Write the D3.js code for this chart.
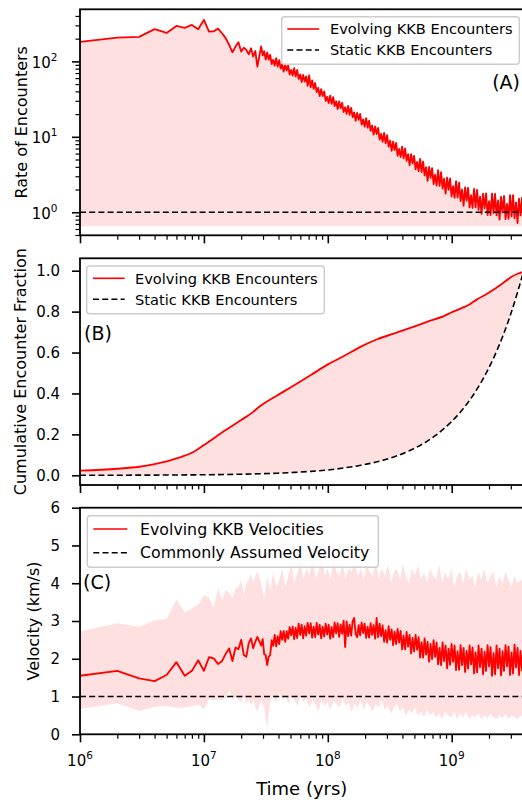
<!DOCTYPE html>
<html>
<head>
<meta charset="utf-8">
<script src="https://cdn.jsdelivr.net/npm/d3@7"></script>
<style>
  body { margin: 0; background: #fff; }
  text { font-family: "DejaVu Sans", sans-serif; fill: #000; }
</style>
</head>
<body>
<svg id="chart" width="522" height="800"></svg>
<script>
// ---------------- data ----------------
// Early epoch: one sample per Myr (1..27 Myr)
const earlyTimes = d3.range(1, 28).map(k => k * 1e6);

// (A) encounter rate, early samples
const rateEarly = [181, 206, 211, 267, 238, 295, 278, 304, 267, 355, 248, 251, 272, 236, 203,
  165, 132, 157, 179, 135, 152, 142, 124, 149, 116, 137, 85];
// (A) encounter rate, later dense samples (log-spaced from 2.9e7 to 3.8e9 yr)
const rateLate = [158, 120, 136, 106, 131, 106, 122, 92, 105, 88, 110, 85.5,
  104, 80, 92, 73, 91, 75.5, 88, 67, 77, 65, 81, 63,
  77, 58.6, 67, 53, 66, 54, 63, 47.5, 65, 45.3, 56, 43.2,
  51.6, 39.2, 44.5, 34.7, 42.7, 34.8, 39.9, 29.9, 33.9, 28.1, 35.1, 27.4,
  33.5, 25.6, 29.6, 23.3, 29.4, 24.0, 28.2, 21.3, 24.6, 20.2, 25.7, 19.6,
  24.2, 18.2, 21.1, 16.3, 20.8, 16.8, 20.1, 14.5, 17.0, 13.7, 17.7, 13.2,
  16.4, 12.0, 14.1, 10.7, 13.7, 10.9, 13.1, 9.2, 10.9, 8.6, 11.3, 8.2,
  10.5, 7.4, 8.9, 6.5, 8.6, 6.65, 8.3, 5.6, 6.9, 5.4, 7.4, 5.2,
  7.0, 4.8, 5.9, 4.2, 5.9, 4.45, 5.6, 3.7, 4.65, 3.5, 5.1, 3.4,
  4.7, 3.07, 3.95, 2.6, 3.98, 2.85, 3.85, 2.37, 3.14, 2.25, 3.6, 2.24,
  3.39, 2.06, 2.79, 1.77, 2.88, 1.98, 2.8, 1.62, 2.22, 1.55, 2.59, 1.56,
  2.47, 1.41, 2.0, 1.22, 2.13, 1.42, 2.11, 1.16, 1.68, 1.14, 2.04, 1.17,
  1.98, 1.08, 1.61, 0.95, 1.76, 1.13, 1.78, 0.92, 1.40, 0.92, 1.77, 0.97,
  1.75, 0.91, 1.43, 0.80, 1.60, 0.99, 1.64, 0.81, 1.29, 0.82, 1.69, 0.88,
  1.68, 0.83, 1.35, 0.72, 1.51, 0.91, 1.56, 0.65];
const staticRate = 1;

// (B) cumulative encounter fraction
const cumTimes = [1e6, 2e6, 3e6, 4e6, 5e6, 6e6, 8e6, 1e7, 1.5e7, 2e7, 2.5e7, 2.8e7, 3.9e7, 5.4e7, 7.3e7,
  1e8, 1.35e8, 1.85e8, 2.5e8, 3.45e8, 4.7e8, 6.4e8, 8.8e8, 1.0e9, 1.19e9, 1.4e9, 1.6e9, 1.9e9, 2.2e9,
  2.6e9, 3.0e9, 3.4e9, 3.8e9];
const cumEvolving = [0.0225, 0.032, 0.042, 0.055, 0.068, 0.083, 0.11, 0.148, 0.221, 0.27, 0.31, 0.335,
  0.39, 0.441, 0.49, 0.542, 0.583, 0.629, 0.665, 0.694, 0.722, 0.751, 0.78, 0.797, 0.816, 0.836, 0.86,
  0.885, 0.909, 0.94, 0.968, 0.985, 0.995];
const cumStatic = [0.0003, 0.0005, 0.0008, 0.001, 0.0013, 0.0016, 0.0021, 0.0026, 0.004, 0.0053, 0.0066,
  0.0074, 0.0103, 0.0142, 0.0192, 0.026, 0.036, 0.049, 0.066, 0.091, 0.124, 0.168, 0.232, 0.263, 0.313,
  0.368, 0.421, 0.5, 0.579, 0.684, 0.789, 0.895, 0.995];

// (C) encounter velocity, early samples
const velEarly = [1.55, 1.68, 1.48, 1.41, 1.57, 1.91, 1.55, 1.68, 1.96, 1.68, 2.04, 2.01, 1.86, 1.94, 2.13,
  2.27, 1.94, 2.30, 2.25, 2.50, 2.10, 2.05, 2.41, 2.54, 2.28, 2.45, 2.58];
const velUpperEarly = [2.72, 2.94, 2.85, 3.01, 3.05, 3.57, 3.23, 3.33, 3.44, 3.69, 3.62, 3.37, 3.89, 3.55,
  3.82, 3.75, 3.62, 3.85, 3.90, 4.10, 3.70, 4.00, 4.10, 4.26, 4.00, 4.20, 4.32];
const velLowerEarly = [0.67, 0.82, 0.62, 0.72, 0.75, 0.70, 0.71, 0.74, 0.79, 0.66, 0.93, 0.90, 0.93, 0.90,
  0.95, 1.15, 0.92, 1.00, 0.90, 0.85, 1.00, 0.80, 0.95, 0.75, 0.90, 0.70, 0.60];
// (C) velocity, later dense samples (same grid as rateLate)
const velLate = [2.35, 2.52, 2.12, 2.10, 1.83, 2.05, 2.10, 2.49, 2.34, 2.63, 2.33, 2.60,
  2.39, 2.73, 2.50, 2.74, 2.45, 2.73, 2.53, 2.84, 2.62, 2.85, 2.52, 2.82,
  2.55, 2.93, 2.63, 2.90, 2.54, 2.86, 2.61, 2.95, 2.67, 2.94, 2.56, 2.85,
  2.57, 2.95, 2.64, 2.90, 2.54, 2.85, 2.59, 2.93, 2.64, 2.90, 2.53, 2.84,
  2.57, 2.96, 2.67, 2.94, 2.58, 2.91, 2.66, 3.01, 2.31, 2.99, 2.60, 2.90,
  2.61, 2.99, 3.08, 2.66, 2.57, 2.89, 2.62, 2.96, 2.68, 2.93, 2.55, 2.85,
  2.56, 2.94, 2.63, 2.89, 2.53, 3.08, 2.57, 2.93, 2.60, 2.88, 2.45, 2.76,
  2.43, 2.86, 2.50, 2.78, 2.36, 2.72, 2.39, 2.79, 2.43, 2.74, 2.25, 2.61,
  2.25, 2.71, 2.32, 2.63, 2.14, 2.55, 2.19, 2.63, 2.24, 2.57, 2.03, 2.44,
  2.03, 2.54, 2.11, 2.45, 1.92, 2.39, 1.99, 2.49, 2.05, 2.43, 1.85, 2.29,
  1.83, 2.43, 1.94, 2.35, 1.75, 2.27, 1.84, 2.39, 1.92, 2.35, 1.70, 2.20,
  1.71, 2.36, 1.83, 2.29, 1.65, 2.21, 1.74, 2.35, 1.85, 2.30, 1.61, 2.17,
  1.64, 2.35, 1.78, 2.27, 1.59, 2.19, 1.68, 2.36, 1.80, 2.31, 1.55, 2.15,
  1.59, 2.35, 1.75, 2.27, 1.56, 2.20, 1.68, 2.36, 1.80, 2.32, 1.57, 2.17,
  1.61, 2.37, 1.77, 2.29, 1.57, 2.21, 1.69, 2.37];
// (C) velocity spread band, later samples (coarser log grid, 2.9e7 to 3.8e9 yr)
const velUpperLate = [4.0, 3.6, 4.2, 3.8, 4.3, 3.9, 4.1, 4.4, 3.9, 4.2, 4.5, 4.0, 4.3, 4.6, 4.1, 4.4,
  4.2, 4.8, 4.1, 4.3, 4.9, 4.2, 4.4, 4.1, 4.7, 4.3, 4.2, 4.5, 4.1, 4.4, 4.3, 4.6, 4.2, 4.4, 4.1, 4.5,
  4.3, 4.2, 4.6, 4.1, 4.4, 4.2, 4.5, 4.0, 4.3, 4.4, 4.1, 4.5, 4.2, 4.0, 4.4, 4.2, 4.5, 4.1, 4.3, 4.0,
  4.4, 4.2, 4.1, 4.5, 4.0, 4.3, 4.1, 4.4, 3.9, 4.2, 4.3, 4.0, 4.4, 4.1, 4.2, 3.9, 4.3, 4.1, 4.4, 4.0,
  4.2, 4.3, 3.9, 4.2, 4.0, 4.3, 4.1, 3.9, 4.2, 4.0, 4.1, 4.0];
const velLowerLate = [0.9, 0.7, 0.15, 0.9, 1.0, 0.85, 1.1, 0.9, 1.05, 0.8, 1.0, 0.9, 0.75, 1.0, 0.85,
  0.95, 0.7, 0.9, 0.8, 0.6, 0.9, 0.75, 0.85, 0.65, 0.9, 0.8, 0.7, 0.95, 0.75, 0.85, 0.6, 0.8, 0.7, 0.9,
  0.65, 0.85, 0.75, 0.6, 0.8, 0.7, 0.9, 0.65, 0.75, 0.55, 0.7, 0.8, 0.6, 0.7, 0.5, 0.65, 0.55, 0.7,
  0.5, 0.6, 0.45, 0.65, 0.5, 0.6, 0.45, 0.55, 0.4, 0.6, 0.5, 0.45, 0.6, 0.4, 0.55, 0.45, 0.6, 0.4,
  0.5, 0.45, 0.55, 0.4, 0.5, 0.42, 0.55, 0.45, 0.4, 0.5, 0.42, 0.55, 0.4, 0.5, 0.45, 0.4, 0.5, 0.45];
const assumedVelocity = 1;

// Axis ticks
const xMajorTicks = [1e6, 1e7, 1e8, 1e9];
const xTickExponents = ["6", "7", "8", "9"];
const rateMajorTicks = [1, 10, 100];
const rateTickExponents = ["0", "1", "2"];
const cumTicks = [0, 0.2, 0.4, 0.6, 0.8, 1.0];
const cumTickLabels = ["0.0", "0.2", "0.4", "0.6", "0.8", "1.0"];
const velTicks = [0, 1, 2, 3, 4, 5, 6];

// ---------------- helpers ----------------
const logGrid = (a, b, n) => d3.range(n).map(i =>
  Math.pow(10, Math.log10(a) + i * (Math.log10(b) - Math.log10(a)) / (n - 1)));
const lateTimes = logGrid(2.9e7, 3.8e9, rateLate.length);
const bandTimes = logGrid(2.9e7, 3.8e9, velUpperLate.length);

const rateSeries = earlyTimes.map((t, i) => ({t, v: rateEarly[i]}))
  .concat(lateTimes.map((t, i) => ({t, v: rateLate[i]})));
const velSeries = earlyTimes.map((t, i) => ({t, v: velEarly[i]}))
  .concat(lateTimes.map((t, i) => ({t, v: velLate[i]})));
const velBand = earlyTimes.map((t, i) => ({t, lo: velLowerEarly[i], hi: velUpperEarly[i]}))
  .concat(bandTimes.map((t, i) => ({t, lo: velLowerLate[i], hi: velUpperLate[i]})));
const cumSeries = cumTimes.map((t, i) => ({t, e: cumEvolving[i], s: cumStatic[i]}));

// ---------------- layout ----------------
const svg = d3.select("#chart");
const X0 = 80, X1 = 80 + 123.9 * Math.log10(3800);
const x = d3.scaleLog().domain([1e6, 3.8e9]).range([X0, X1]);

const pA = {top: 9.3, bottom: 235.3};
const pB = {top: 258.3, bottom: 485};
const pC = {top: 507.7, bottom: 734.3};

const yA = d3.scaleLog().domain([0.495, 490]).range([pA.bottom, pA.top]);
const yB = d3.scaleLinear().domain([-0.0474, 1.0606]).range([pB.bottom, pB.top]);
const yC = d3.scaleLinear().domain([0, 6]).range([pC.bottom, pC.top]);

const RED = "#ff0000";
const FILL = "rgba(255,0,0,0.12)";
const DASH = "6,3.2";
const LINE_W = 1.85;

// clip paths per panel
const defs = svg.append("defs");
[["clipA", pA], ["clipB", pB], ["clipC", pC]].forEach(([id, p]) => {
  defs.append("clipPath").attr("id", id).append("rect")
    .attr("x", X0).attr("y", p.top).attr("width", X1 - X0).attr("height", p.bottom - p.top);
});

function xTicks(p, withLabels) {
  const minor = [];
  [1e6, 1e7, 1e8, 1e9].forEach(d => { for (let k = 2; k <= 9; k++) if (k * d <= 3.8e9) minor.push(k * d); });
  const gMin = svg.append("g").attr("transform", `translate(0,${p.bottom})`)
    .call(d3.axisBottom(x).tickValues(minor).tickSize(4.5).tickFormat(""));
  gMin.select(".domain").remove();
  gMin.selectAll("line").attr("stroke", "#000").attr("stroke-width", 1.2);
  const gMaj = svg.append("g").attr("transform", `translate(0,${p.bottom})`)
    .call(d3.axisBottom(x).tickValues(xMajorTicks).tickSize(8).tickFormat(""));
  gMaj.select(".domain").remove();
  gMaj.selectAll("line").attr("stroke", "#000").attr("stroke-width", 1.6);
  if (withLabels) {
    xMajorTicks.forEach((t, i) => {
      const tx = svg.append("text").attr("x", x(t)).attr("y", p.bottom + 32)
        .attr("text-anchor", "middle").attr("font-size", 15);
      tx.append("tspan").text("10");
      tx.append("tspan").attr("dy", -7).attr("font-size", 10.5).text(xTickExponents[i]);
    });
  }
}

function frame(p) {
  svg.append("rect").attr("x", X0).attr("y", p.top).attr("width", X1 - X0).attr("height", p.bottom - p.top)
    .attr("fill", "none").attr("stroke", "#000").attr("stroke-width", 1.8);
}

function legend(box, rows, fontSize) {
  const g = svg.append("g");
  g.append("rect").attr("x", box.x).attr("y", box.y).attr("width", box.w).attr("height", box.h)
    .attr("rx", 3).attr("fill", "rgba(255,255,255,0.8)").attr("stroke", "#cccccc").attr("stroke-width", 1.4);
  rows.forEach((r, i) => {
    const cy = box.y + box.rowY[i];
    g.append("line").attr("x1", box.x + box.hx0).attr("x2", box.x + box.hx1).attr("y1", cy).attr("y2", cy)
      .attr("stroke", r.color).attr("stroke-width", 1.6)
      .attr("stroke-dasharray", r.dashed ? DASH : null);
    g.append("text").attr("x", box.x + box.tx).attr("y", cy).attr("dy", "0.36em")
      .attr("font-size", fontSize).text(r.label);
  });
}

// ---------------- panel A: encounter rate ----------------
const rateFloor = d3.min(rateSeries, d => d.v);
const gA = svg.append("g").attr("clip-path", "url(#clipA)");
gA.append("path").datum(rateSeries).attr("fill", FILL)
  .attr("d", d3.area().x(d => x(d.t)).y0(yA(rateFloor)).y1(d => yA(d.v)));
gA.append("path").datum(rateSeries).attr("fill", "none").attr("stroke", RED).attr("stroke-width", LINE_W)
  .attr("stroke-linejoin", "round")
  .attr("d", d3.line().x(d => x(d.t)).y(d => yA(d.v)));
gA.append("line").attr("x1", X0).attr("x2", X1).attr("y1", yA(staticRate)).attr("y2", yA(staticRate))
  .attr("stroke", "#000").attr("stroke-width", 1.6).attr("stroke-dasharray", DASH);

// y ticks A
{
  const minor = [];
  [0.1, 1, 10, 100].forEach(d => { for (let k = 2; k <= 9; k++) { const v = k * d; if (v >= 0.495 && v <= 490) minor.push(v); } });
  const gMin = svg.append("g").attr("transform", `translate(${X0},0)`)
    .call(d3.axisLeft(yA).tickValues(minor).tickSize(4.5).tickFormat(""));
  gMin.select(".domain").remove();
  gMin.selectAll("line").attr("stroke", "#000").attr("stroke-width", 1.2);
  const gMaj = svg.append("g").attr("transform", `translate(${X0},0)`)
    .call(d3.axisLeft(yA).tickValues(rateMajorTicks).tickSize(8).tickFormat(""));
  gMaj.select(".domain").remove();
  gMaj.selectAll("line").attr("stroke", "#000").attr("stroke-width", 1.6);
  rateMajorTicks.forEach((t, i) => {
    const tx = svg.append("text").attr("x", 57.5).attr("y", yA(t) + 6.5)
      .attr("text-anchor", "end").attr("font-size", 15);
    tx.append("tspan").text("10");
    tx.append("tspan").attr("dy", -7).attr("font-size", 10.5).text(rateTickExponents[i]);
  });
}
xTicks(pA, false);
frame(pA);
legend({x: 281.7, y: 16.7, w: 237.6, h: 47.6, rowY: [12.3, 33.3], hx0: 5.6, hx1: 37.3, tx: 48.3},
  [{label: "Evolving KKB Encounters", color: RED}, {label: "Static KKB Encounters", color: "#000", dashed: true}], 14.6);
svg.append("text").attr("x", 520).attr("y", 81.7).attr("dy", "0.36em").attr("text-anchor", "end")
  .attr("font-size", 19).text("(A)");
svg.append("text").attr("transform", `translate(21,${(pA.top + pA.bottom) / 2}) rotate(-90)`)
  .attr("text-anchor", "middle").attr("dy", "0.36em").attr("font-size", 16).text("Rate of Encounters");

// ---------------- panel B: cumulative fraction ----------------
const gB = svg.append("g").attr("clip-path", "url(#clipB)");
gB.append("path").datum(cumSeries).attr("fill", FILL)
  .attr("d", d3.area().curve(d3.curveMonotoneX).x(d => x(d.t)).y0(d => yB(d.s)).y1(d => yB(d.e)));
gB.append("path").datum(cumSeries).attr("fill", "none").attr("stroke", "#000").attr("stroke-width", 1.6)
  .attr("stroke-dasharray", DASH)
  .attr("d", d3.line().curve(d3.curveMonotoneX).x(d => x(d.t)).y(d => yB(d.s)));
gB.append("path").datum(cumSeries).attr("fill", "none").attr("stroke", RED).attr("stroke-width", LINE_W)
  .attr("d", d3.line().curve(d3.curveMonotoneX).x(d => x(d.t)).y(d => yB(d.e)));
{
  const g = svg.append("g").attr("transform", `translate(${X0},0)`)
    .call(d3.axisLeft(yB).tickValues(cumTicks).tickSize(8).tickFormat(""));
  g.select(".domain").remove();
  g.selectAll("line").attr("stroke", "#000").attr("stroke-width", 1.6);
  cumTicks.forEach((t, i) => {
    svg.append("text").attr("x", 60).attr("y", yB(t)).attr("dy", "0.36em")
      .attr("text-anchor", "end").attr("font-size", 15).text(cumTickLabels[i]);
  });
}
xTicks(pB, false);
frame(pB);
legend({x: 86.7, y: 266, w: 237.6, h: 47.7, rowY: [12.3, 33.3], hx0: 6.3, hx1: 38, tx: 48.3},
  [{label: "Evolving KKB Encounters", color: RED}, {label: "Static KKB Encounters", color: "#000", dashed: true}], 14.6);
svg.append("text").attr("x", 84).attr("y", 333.3).attr("dy", "0.36em").attr("font-size", 19).text("(B)");
svg.append("text").attr("transform", `translate(20,${(pB.top + pB.bottom) / 2}) rotate(-90)`)
  .attr("text-anchor", "middle").attr("dy", "0.36em").attr("font-size", 16).text("Cumulative Encounter Fraction");

// ---------------- panel C: velocities ----------------
const gC = svg.append("g").attr("clip-path", "url(#clipC)");
gC.append("path").datum(velBand).attr("fill", FILL)
  .attr("d", d3.area().x(d => x(d.t)).y0(d => yC(d.lo)).y1(d => yC(d.hi)));
gC.append("line").attr("x1", X0).attr("x2", X1).attr("y1", yC(assumedVelocity)).attr("y2", yC(assumedVelocity))
  .attr("stroke", "#000").attr("stroke-width", 1.6).attr("stroke-dasharray", DASH);
gC.append("path").datum(velSeries).attr("fill", "none").attr("stroke", RED).attr("stroke-width", LINE_W)
  .attr("stroke-linejoin", "round")
  .attr("d", d3.line().x(d => x(d.t)).y(d => yC(d.v)));
{
  const g = svg.append("g").attr("transform", `translate(${X0},0)`)
    .call(d3.axisLeft(yC).tickValues(velTicks).tickSize(8).tickFormat(""));
  g.select(".domain").remove();
  g.selectAll("line").attr("stroke", "#000").attr("stroke-width", 1.6);
  velTicks.forEach(t => {
    svg.append("text").attr("x", 60).attr("y", yC(t)).attr("dy", "0.36em")
      .attr("text-anchor", "end").attr("font-size", 15).text(String(t));
  });
}
xTicks(pC, true);
frame(pC);
legend({x: 87.3, y: 515.7, w: 291, h: 51.6, rowY: [13.3, 37], hx0: 6, hx1: 40, tx: 52.7},
  [{label: "Evolving KKB Velocities", color: RED}, {label: "Commonly Assumed Velocity", color: "#000", dashed: true}], 15.8);
svg.append("text").attr("x", 83).attr("y", 581.7).attr("dy", "0.36em").attr("font-size", 19).text("(C)");
svg.append("text").attr("transform", `translate(33,${(pC.top + pC.bottom) / 2}) rotate(-90)`)
  .attr("text-anchor", "middle").attr("dy", "0.36em").attr("font-size", 16).text("Velocity (km/s)");
svg.append("text").attr("x", (X0 + X1) / 2).attr("y", 789).attr("dy", "0.36em")
  .attr("text-anchor", "middle").attr("font-size", 18).text("Time (yrs)");
</script>
</body>
</html>
